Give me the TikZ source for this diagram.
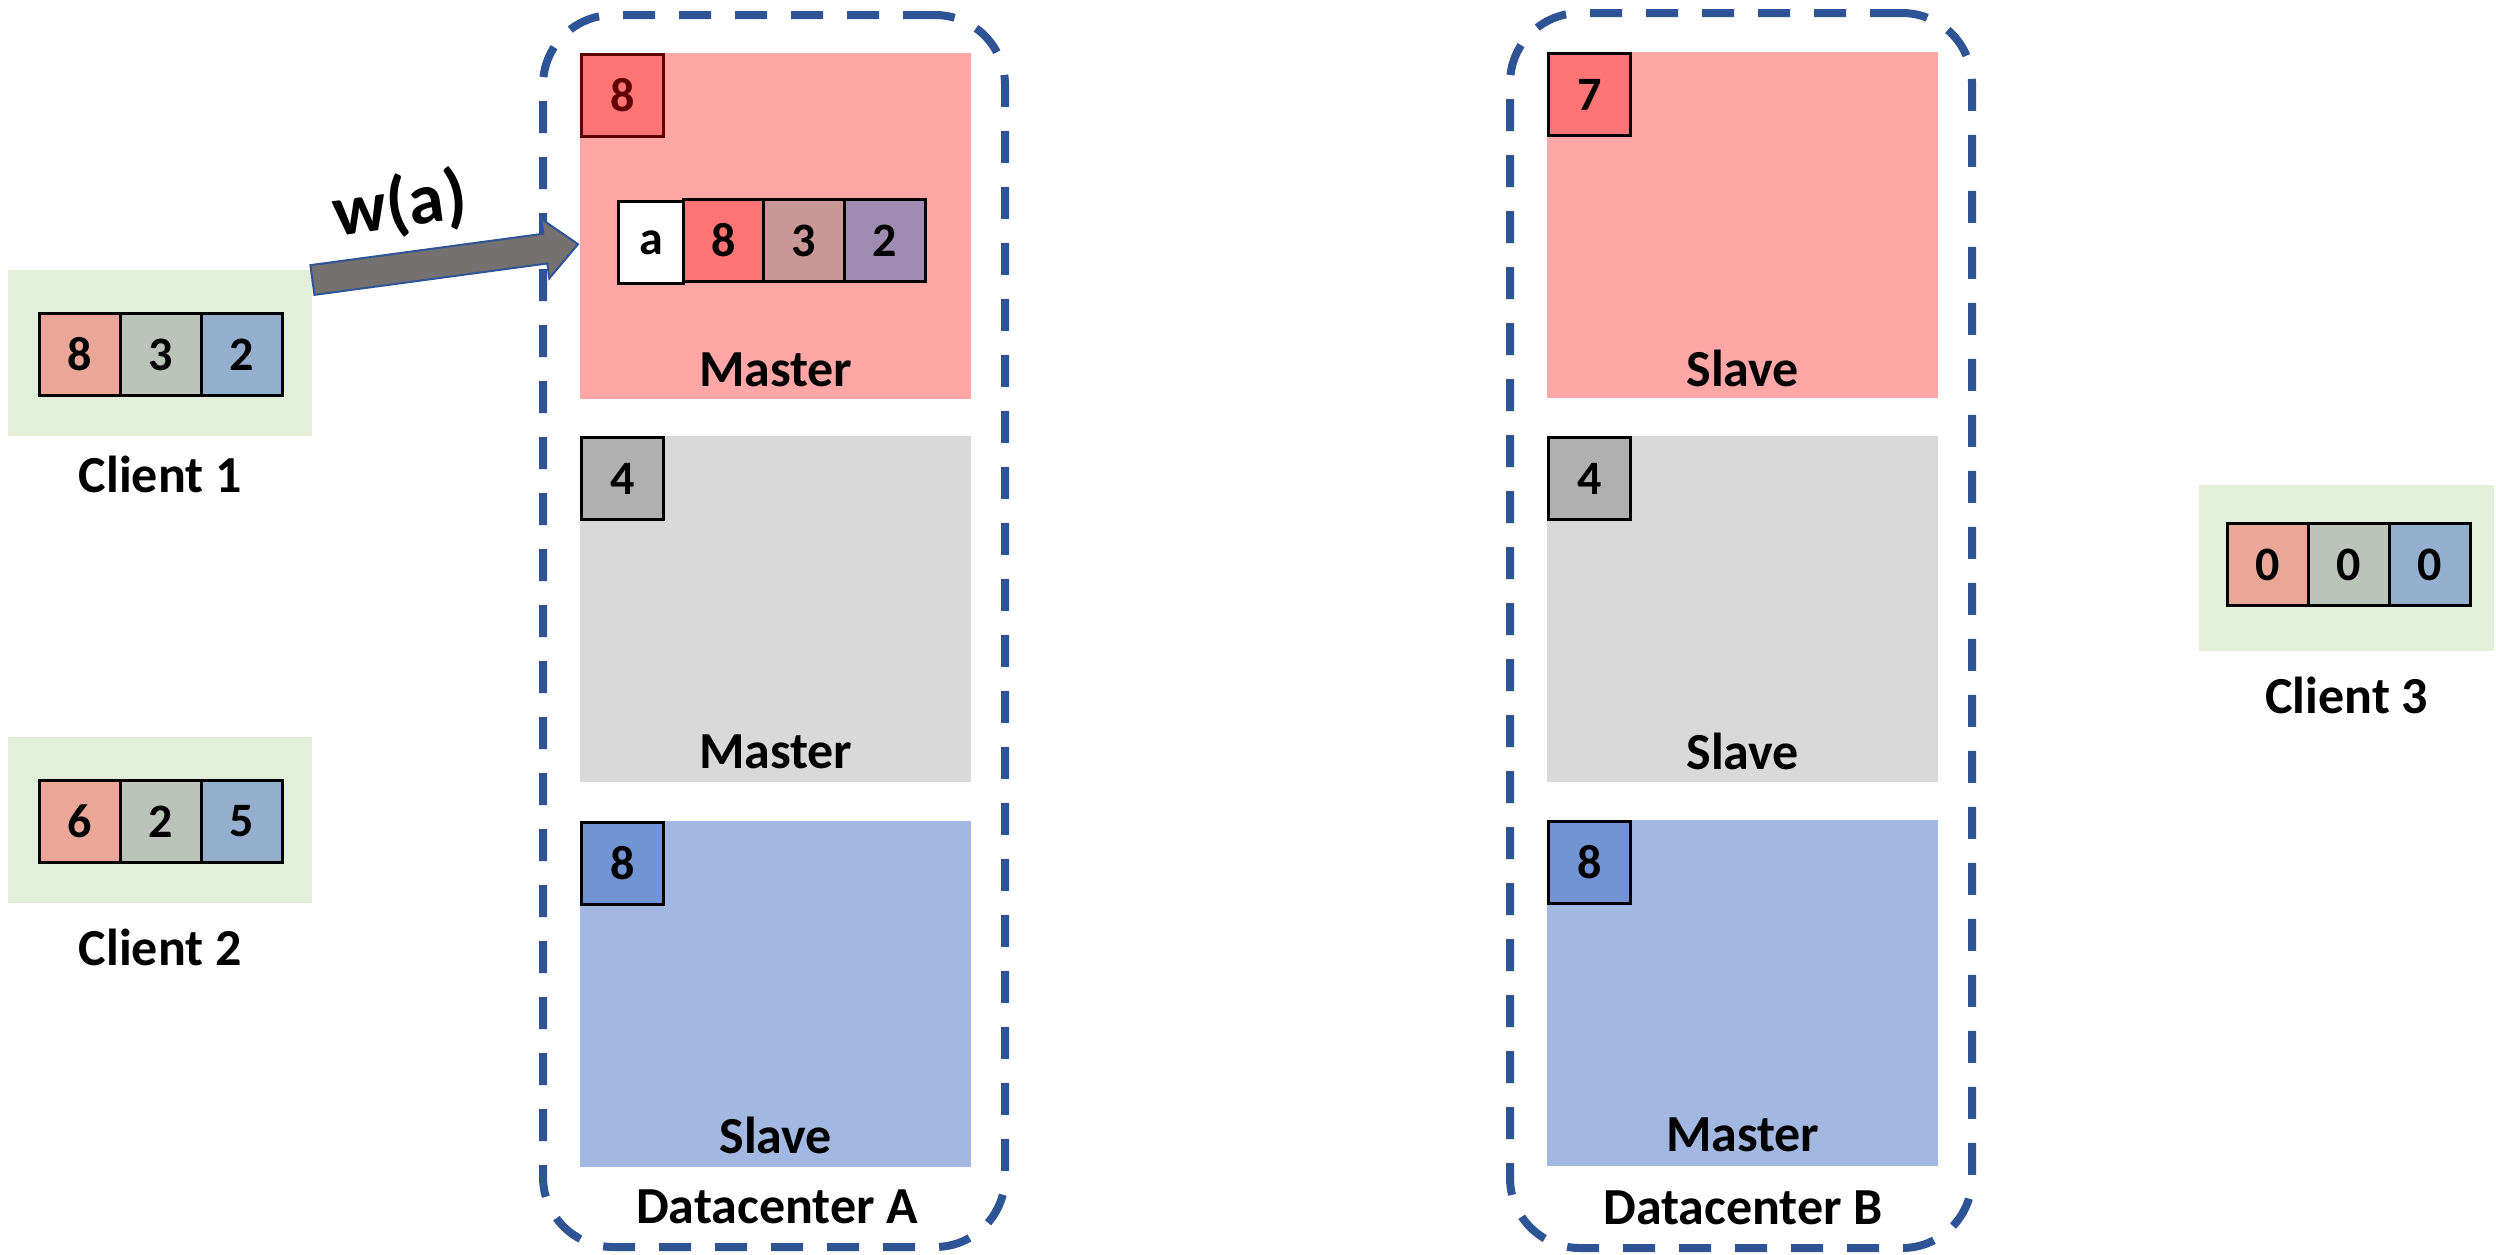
\documentclass[tikz,border=0pt]{standalone}
\usepackage{fontspec}
\setmainfont{Carlito}
\usetikzlibrary{calc}

\definecolor{dcline}{HTML}{2F5496}
\definecolor{clientbg}{HTML}{E2EFDA}
\definecolor{vred}{HTML}{EAA797}
\definecolor{vgray}{HTML}{BAC4B8}
\definecolor{vblue}{HTML}{94B0CE}
\definecolor{regred}{HTML}{FFA6A6}
\definecolor{tagred}{HTML}{FF7575}
\definecolor{reggray}{HTML}{D9D9D9}
\definecolor{taggray}{HTML}{B0B0B0}
\definecolor{regblue}{HTML}{A2B8E0}
\definecolor{tagblue}{HTML}{7294D2}
\definecolor{wrose}{HTML}{CA9797}
\definecolor{wviolet}{HTML}{A08BB1}
\definecolor{darkred}{HTML}{600000}
\definecolor{arrowfill}{HTML}{767171}
\definecolor{arrowline}{HTML}{2F5597}

\begin{document}
\begin{tikzpicture}[x=1pt,y=-1pt,
  lbl/.style={font=\fontsize{52}{60}\selectfont\bfseries, inner sep=0pt},
  cell/.style={draw=black, line width=3pt, minimum width=81pt, minimum height=82pt,
    inner sep=0pt, anchor=north west, font=\fontsize{48}{56}\selectfont\bfseries},
  tagbox/.style={cell, minimum width=82pt},
  region/.style={inner sep=0pt, anchor=north west, minimum width=391pt, minimum height=346pt},
  clientbox/.style={fill=clientbg, inner sep=0pt, anchor=north west, minimum height=166pt},
  dcbox/.style={draw=dcline, line width=8pt, rounded corners=70pt,
    dash pattern=on 32pt off 24pt, minimum width=462pt, inner sep=0pt},
  warrow/.style={fill=arrowfill, draw=arrowline, line width=2pt, line join=miter}
]
\useasboundingbox (0,0) rectangle (2496,1254);

% datacenter outlines
\node[dcbox, minimum height=1232pt] (dcA) at (774,631) {};
\node[dcbox, minimum height=1235pt] (dcB) at (1741,630.5) {};
\node[lbl] (dcAlbl) at (777,1207) {Datacenter A};
\node[lbl] (dcBlbl) at (1743,1208) {Datacenter B};

% datacenter A shards
\node[region, fill=regred]  (mA1) at (580,53) {};
\node[region, fill=reggray] (mA2) at (580,436) {};
\node[region, fill=regblue] (mA3) at (580,821) {};
\node[tagbox, fill=tagred, draw=darkred, text=darkred] (tA1) at (mA1.north west) {8};
\node[tagbox, fill=taggray] (tA2) at (mA2.north west) {4};
\node[tagbox, fill=tagblue] (tA3) at (mA3.north west) {8};
\node[lbl] (rA1) at ($(mA1.south)+(0,-30)$) {Master};
\node[lbl] (rA2) at ($(mA2.south)+(0,-31)$) {Master};
\node[lbl] (rA3) at ($(mA3.south)+(0,-32)$) {Slave};

% pending write with its vector
\node[cell, fill=white, minimum width=65pt] (wa) at (617,200) {a};
\node[cell, fill=tagred]  (w1) at (682,198) {8};
\node[cell, fill=wrose]   (w2) at (762,198) {3};
\node[cell, fill=wviolet] (w3) at (843,198) {2};

% datacenter B shards
\node[region, fill=regred]  (mB1) at (1547,52) {};
\node[region, fill=reggray] (mB2) at (1547,436) {};
\node[region, fill=regblue] (mB3) at (1547,820) {};
\node[tagbox, fill=tagred]  (tB1) at (mB1.north west) {7};
\node[tagbox, fill=taggray] (tB2) at (mB2.north west) {4};
\node[tagbox, fill=tagblue] (tB3) at (mB3.north west) {8};
\node[lbl] (rB1) at ($(mB1.south)+(0,-30)$) {Slave};
\node[lbl] (rB2) at ($(mB2.south)+(0,-31)$) {Slave};
\node[lbl] (rB3) at ($(mB3.south)+(0,-32)$) {Master};

% clients
\node[clientbox, minimum width=304pt] (c1) at (8,270) {};
\node[cell, fill=vred]  (c1a) at (38,312) {8};
\node[cell, fill=vgray] (c1b) at (119,312) {3};
\node[cell, fill=vblue] (c1c) at (200,312) {2};
\node[lbl] (c1l) at ($(c1.south)+(0,38)$) {Client 1};

\node[clientbox, minimum width=304pt] (c2) at (8,737) {};
\node[cell, fill=vred]  (c2a) at (38,779) {6};
\node[cell, fill=vgray] (c2b) at (119,779) {2};
\node[cell, fill=vblue] (c2c) at (200,779) {5};
\node[lbl] (c2l) at ($(c2.south)+(0,44)$) {Client 2};

\node[clientbox, minimum width=295pt] (c3) at (2199,485) {};
\node[cell, fill=vred]  (c3a) at (2226,522) {0};
\node[cell, fill=vgray] (c3b) at (2307,522) {0};
\node[cell, fill=vblue] (c3c) at (2388,522) {0};
\node[lbl] (c3l) at ($(c3.south)+(0,44)$) {Client 3};

% write request from client 1 to the master of datacenter A
\coordinate (ws) at ($(c1.north east)+(0,10)$);
\coordinate (wt) at ($(mA1.west)+(-2,18)$);
\coordinate (wb) at ($(wt)!33pt!(ws)$);
\filldraw[warrow]
  ($(ws)!15pt!90:(wt)$) -- ($(wb)!15pt!90:(wt)$) -- ($(wb)!30pt!90:(wt)$)
  -- (wt) -- ($(wb)!30pt!-90:(wt)$) -- ($(wb)!15pt!-90:(wt)$)
  -- ($(ws)!15pt!-90:(wt)$) -- cycle;
\node[inner sep=0pt, font=\fontsize{72}{80}\selectfont\bfseries, rotate=8] (wlbl) at (400,206) {w(a)};
\end{tikzpicture}
\end{document}
